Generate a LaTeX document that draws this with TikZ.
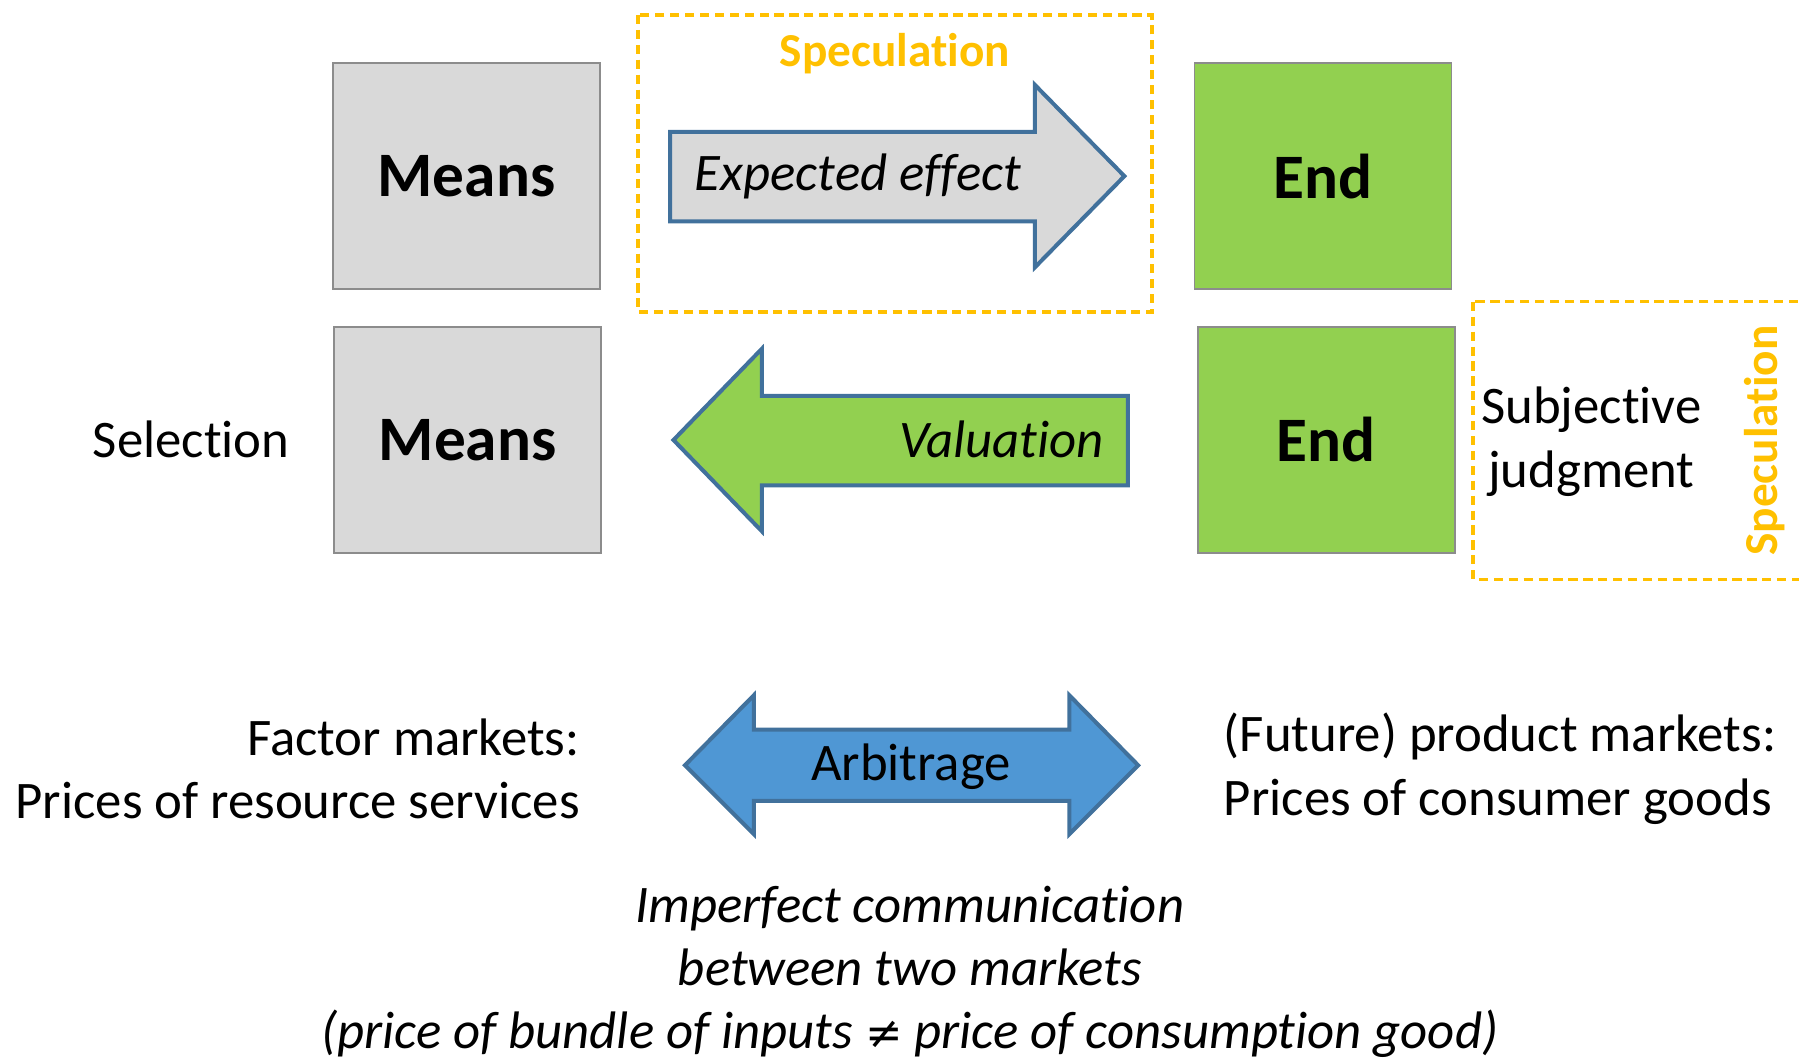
\documentclass[tikz,border=0pt]{standalone}
\usepackage{fontspec}
\setmainfont{Carlito}[RawFeature={-liga;-clig;-calt;-dlig}]
\newfontfamily\symbolfont{DejaVu Sans}[Scale=0.85]
\definecolor{boxgray}{HTML}{D9D9D9}
\definecolor{edgegray}{HTML}{8C8C8C}
\definecolor{endgreen}{HTML}{92D050}
\definecolor{arrowblue}{HTML}{41719C}
\definecolor{arbblue}{HTML}{4F97D4}
\definecolor{specorange}{HTML}{FFC000}

\tikzset{every picture/.style={line width=0.75pt}}
\tikzset{
  blockbox/.style={draw=edgegray, line width=0.75pt, minimum width=116.5pt, minimum height=98.5pt, inner sep=0pt, font=\fontsize{27.6}{33}\selectfont\bfseries},
  specframe/.style={draw=specorange, line width=1.5pt, dash pattern=on 4pt off 2.5pt},
  fatarrow/.style={draw=arrowblue, line width=1.75pt, line join=miter},
  plaintext/.style={inner sep=0pt, font=\fontsize{23}{27.5}\selectfont},
  spectext/.style={inner sep=0pt, text=specorange, font=\fontsize{20.6}{24}\selectfont\bfseries}
}

\begin{document}
\begin{tikzpicture}[x=0.5pt,y=0.5pt,yscale=-1,xscale=1]
\useasboundingbox (0,0) rectangle (1568,923);

%Shape: Rectangle [id:speculationTop]
\draw [specframe] (556,13) rectangle (1004,272) ;
%Shape: Rectangle [id:speculationRight]
\draw [specframe] (1284,263) rectangle (1580,505) ;

%Shape: Rectangle
\node [blockbox, fill=boxgray] (meansTop) at (406.5,153.5) {Means};
%Shape: Rectangle
\node [blockbox, fill=endgreen, minimum width=112pt] (endTop) at (1153,153.5) {End};
%Shape: Rectangle
\node [blockbox, fill=boxgray] (meansBot) at (407.5,383.5) {Means};
%Shape: Rectangle
\node [blockbox, fill=endgreen, minimum width=112pt] (endBot) at (1156,383.5) {End};

%Shape: Right Arrow [id:expected]
\draw [fatarrow, fill=boxgray] (584,115) -- (902,115) -- (902,74) -- (980,153.5) -- (902,233) -- (902,193) -- (584,193) -- cycle ;
%Shape: Left Arrow [id:valuation]
\draw [fatarrow, fill=endgreen] (983,345) -- (664,345) -- (664,304) -- (587,383.5) -- (664,463) -- (664,423) -- (983,423) -- cycle ;
%Shape: Left-Right Arrow [id:arbitrage]
\draw [fatarrow, fill=arbblue] (597,667) -- (657,606) -- (657,636) -- (932,636) -- (932,606) -- (992,667) -- (932,727) -- (932,698) -- (657,698) -- (657,727) -- cycle ;

% Text Node
\node [spectext] (specTop) at (780,47) {Speculation};
% Text Node
\node [spectext, rotate=90] (specRight) at (1538,384) {Speculation};
% Text Node
\node [plaintext, anchor=west] (expected) at (605,154) {\itshape Expected effect};
% Text Node
\node [plaintext, anchor=east] (valuation) at (963,383) {\itshape Valuation};
% Text Node
\node [plaintext] (arbitrage) at (794,668) {Arbitrage};
% Text Node
\node [plaintext, anchor=east] (selection) at (253,383) {Selection};
% Text Node
\node [plaintext, align=center] (judgment) at (1387,385) {Subjective\\judgment};
% Text Node
\node [plaintext, align=right, anchor=east] (factor) at (506,670) {Factor markets:\\Prices of resource services};
% Text Node
\node [plaintext, align=left, anchor=west] (product) at (1066,670) {(Future) product markets:\\Prices of consumer goods};
% Text Node
\node [plaintext, align=center, font=\fontsize{23}{27.5}\selectfont\itshape] (imperfect) at (793,847) {Imperfect communication\\between two markets\\(price of bundle of inputs {\symbolfont\upshape ≠} price of consumption good)};

\end{tikzpicture}
\end{document}
